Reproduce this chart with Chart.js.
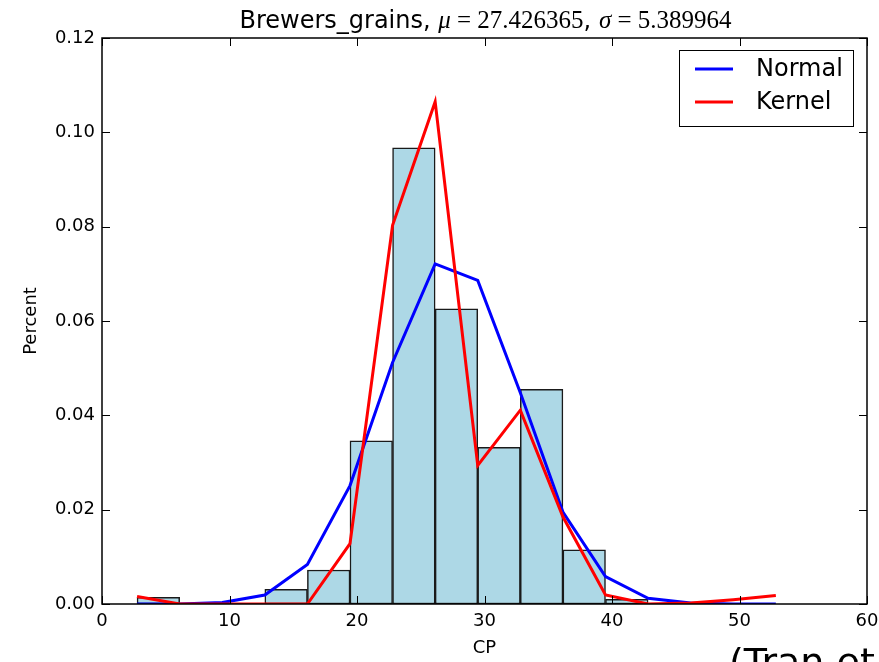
<!DOCTYPE html>
<html>
<head>
<meta charset="utf-8">
<script src="https://cdn.jsdelivr.net/npm/chart.js@4/dist/chart.umd.min.js"></script>
<style>
  html, body { margin: 0; padding: 0; background: #fff; }
  #wrap { position: relative; width: 879px; height: 662px; }
</style>
</head>
<body>
<div id="wrap"><canvas id="hist"></canvas></div>
<script>
// CP histogram for brewers grains, with fitted normal and kernel density
const binEdges = [2.75, 6.09, 9.43, 12.77, 16.11, 19.45, 22.79, 26.13, 29.47, 32.81, 36.15, 39.49, 42.83, 46.17, 49.51, 52.85];
const binHeights = [0.0014, 0, 0, 0.0031, 0.0072, 0.0346, 0.0967, 0.0626, 0.0332, 0.0455, 0.0115, 0.0010, 0, 0, 0];
const normalCurve = [0.0000, 0.0000, 0.0003, 0.0019, 0.0084, 0.0251, 0.0512, 0.0721, 0.0686, 0.0448, 0.0195, 0.0058, 0.0012, 0.0002, 0.0000, 0.0000];
const kernelCurve = [0.0016, 0.0000, 0.0000, 0.0000, 0.0000, 0.0128, 0.0803, 0.1065, 0.0294, 0.0411, 0.0185, 0.0019, 0.0000, 0.0002, 0.0009, 0.0018];
const xTicks = [0, 10, 20, 30, 40, 50, 60];
const yTicks = [0.00, 0.02, 0.04, 0.06, 0.08, 0.10, 0.12];

const SANS = '"DejaVu Sans", sans-serif';
const SERIF = '"Liberation Serif", "DejaVu Serif", serif';

const barPoints = binHeights.map((h, i) => ({ x: (binEdges[i] + binEdges[i + 1]) / 2, y: h }));
const linePoints = ys => ys.map((y, i) => ({ x: binEdges[i], y }));

// frame, inward ticks, mixed-font title, boxed legend, footer fragment
const decorations = {
  id: 'decorations',
  afterDraw(chart) {
    const { ctx, chartArea: a, scales } = chart;
    const xs = scales.x, ys = scales.y;
    ctx.save();

    ctx.strokeStyle = '#000';
    ctx.lineWidth = 1;
    ctx.beginPath();
    xTicks.forEach(v => {
      const px = Math.round(xs.getPixelForValue(v)) + 0.5;
      ctx.moveTo(px, a.bottom); ctx.lineTo(px, a.bottom - 8);
      ctx.moveTo(px, a.top); ctx.lineTo(px, a.top + 8);
    });
    yTicks.forEach(v => {
      const py = Math.round(ys.getPixelForValue(v)) + 0.5;
      ctx.moveTo(a.left, py); ctx.lineTo(a.left + 8, py);
      ctx.moveTo(a.right, py); ctx.lineTo(a.right - 8, py);
    });
    ctx.stroke();
    ctx.lineWidth = 1.5;
    ctx.strokeRect(a.left, a.top, a.right - a.left, a.bottom - a.top);

    // title: plain text in sans, the math parts in serif
    const parts = [
      ['Brewers_grains, ', '24px ' + SANS],
      ['\u03bc', 'italic 25px ' + SERIF],
      [' = ', '25px ' + SERIF],
      ['27.426365', '25px ' + SERIF],
      [', ', '24px ' + SANS],
      ['\u03c3', 'italic 25px ' + SERIF],
      [' = ', '25px ' + SERIF],
      ['5.389964', '25px ' + SERIF]
    ];
    let total = 0;
    const widths = parts.map(([t, f]) => { ctx.font = f; const w = ctx.measureText(t).width; total += w; return w; });
    let tx = (a.left + a.right) / 2 - total / 2 + 1;
    ctx.fillStyle = '#000';
    ctx.textBaseline = 'alphabetic';
    ctx.textAlign = 'left';
    parts.forEach(([t, f], i) => { ctx.font = f; ctx.fillText(t, tx, 28); tx += widths[i]; });

    // legend box in the upper right corner
    const lines = chart.data.datasets.filter(d => d.type === 'line');
    const bx = a.right - 188, by = a.top + 12, bw = 174, bh = 76;
    ctx.fillStyle = '#fff';
    ctx.fillRect(bx, by, bw, bh);
    ctx.lineWidth = 1;
    ctx.strokeStyle = '#000';
    ctx.strokeRect(bx + 0.5, by + 0.5, bw, bh);
    ctx.font = '24px ' + SANS;
    ctx.textBaseline = 'middle';
    lines.forEach((d, i) => {
      const ly = by + 19 + i * 33;
      ctx.strokeStyle = d.borderColor;
      ctx.lineWidth = 3;
      ctx.beginPath();
      ctx.moveTo(bx + 16, ly); ctx.lineTo(bx + 54, ly);
      ctx.stroke();
      ctx.fillStyle = '#000';
      ctx.fillText(d.label, bx + 77, ly + 1);
    });

    ctx.font = '38px ' + SANS;
    ctx.textBaseline = 'alphabetic';
    ctx.fillText('(Tran et', 729, 675);
    ctx.restore();
  }
};

new Chart(document.getElementById('hist'), {
  data: {
    datasets: [
      {
        type: 'line',
        label: 'Normal',
        data: linePoints(normalCurve),
        borderColor: '#0000ff',
        borderWidth: 3,
        pointRadius: 0,
        tension: 0,
        order: 2
      },
      {
        type: 'line',
        label: 'Kernel',
        data: linePoints(kernelCurve),
        borderColor: '#ff0000',
        borderWidth: 3,
        pointRadius: 0,
        tension: 0,
        order: 1
      },
      {
        type: 'bar',
        label: 'CP',
        data: barPoints,
        backgroundColor: '#add8e6',
        borderColor: '#1a1a1a',
        borderWidth: 1.5,
        borderSkipped: false,
        barPercentage: 1,
        categoryPercentage: 1,
        order: 3
      }
    ]
  },
  options: {
    responsive: true,
    maintainAspectRatio: false,
    animation: false,
    layout: { padding: { top: 38, right: 12, left: 0, bottom: 0 } },
    plugins: {
      legend: { display: false },
      tooltip: { enabled: false }
    },
    scales: {
      x: {
        type: 'linear',
        offset: false,
        min: 0,
        max: 60,
        grid: { display: false, drawTicks: false, offset: false },
        border: { display: false },
        ticks: {
          stepSize: 10,
          padding: 7,
          color: '#000',
          font: { family: SANS, size: 18 },
          maxRotation: 0
        },
        title: {
          display: true,
          text: 'CP',
          color: '#000',
          font: { family: SANS, size: 18 },
          padding: { bottom: 3 }
        },
        afterFit(scale) {
          scale.height = 58;
          scale.paddingLeft = 0;
          scale.paddingRight = 0;
        }
      },
      y: {
        type: 'linear',
        min: 0,
        max: 0.12,
        grid: { display: false, drawTicks: false },
        border: { display: false },
        ticks: {
          stepSize: 0.02,
          padding: 7,
          color: '#000',
          font: { family: SANS, size: 18 },
          callback: v => v.toFixed(2)
        },
        title: {
          display: true,
          text: 'Percent',
          color: '#000',
          font: { family: SANS, size: 18 },
          padding: { top: 21 }
        },
        afterFit(scale) {
          scale.width = 102;
          scale.paddingTop = 0;
          scale.paddingBottom = 0;
        }
      }
    }
  },
  plugins: [decorations]
});
</script>
</body>
</html>
